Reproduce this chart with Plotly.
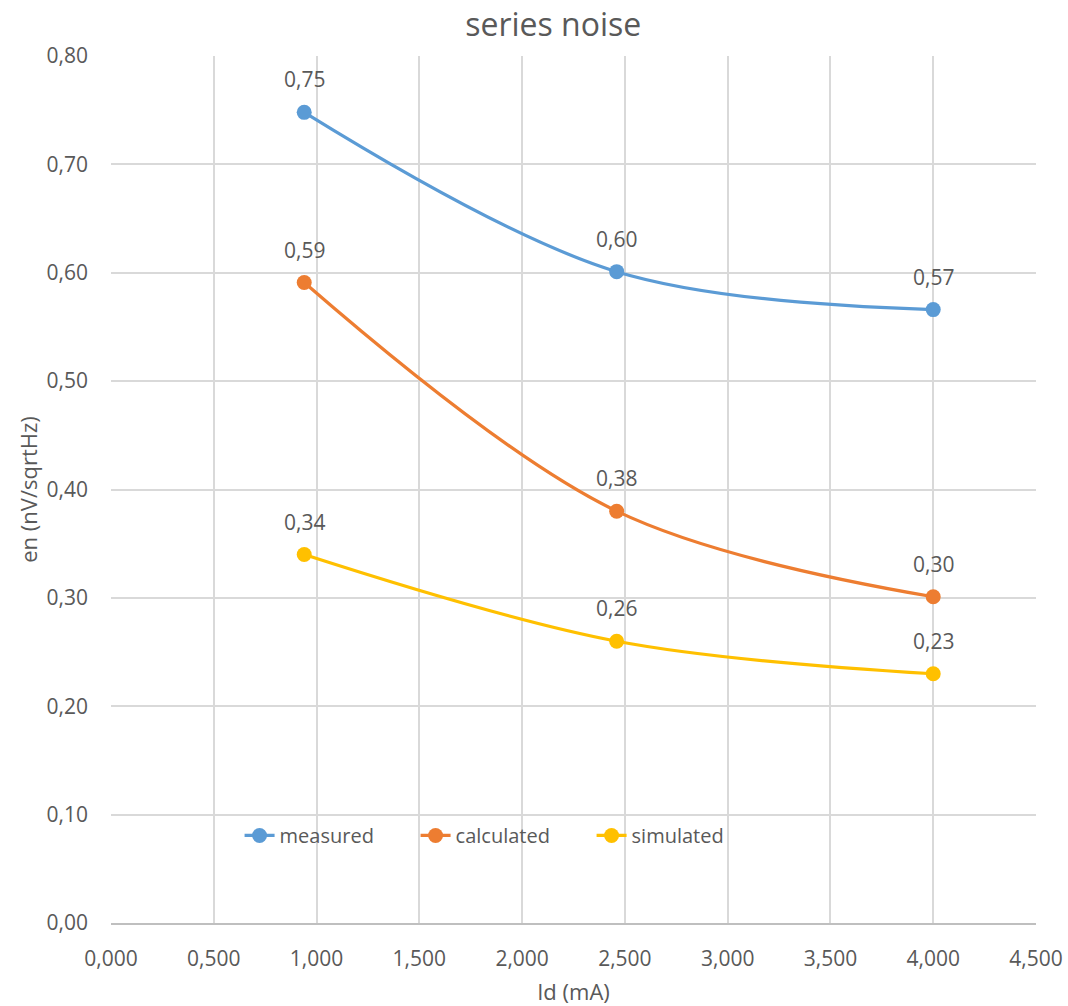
import plotly.graph_objects as go

# Drain current Id (mA) and series noise en (nV/sqrtHz)
id_ma = [0.94, 2.46, 4.0]
measured = [0.748, 0.601, 0.566]
calculated = [0.591, 0.380, 0.301]
simulated = [0.340, 0.260, 0.230]

series = [
    ("measured", measured, "#5B9BD5"),
    ("calculated", calculated, "#ED7D31"),
    ("simulated", simulated, "#FFC000"),
]

x_ticks = [0, 0.5, 1.0, 1.5, 2.0, 2.5, 3.0, 3.5, 4.0, 4.5]
y_ticks = [0, 0.1, 0.2, 0.3, 0.4, 0.5, 0.6, 0.7, 0.8]

FONT = "Open Sans"
TEXT = "#595959"
GRID = "#d9d9d9"

fig = go.Figure()
annotations = []
for name, vals, color in series:
    fig.add_trace(go.Scatter(
        x=id_ma, y=vals, name=name, mode="lines+markers",
        line=dict(color=color, width=3.2, shape="spline", smoothing=1.0),
        marker=dict(color=color, size=15),
    ))
    for xv, yv in zip(id_ma, vals):
        annotations.append(dict(
            x=xv, y=yv, xref="x", yref="y", showarrow=False,
            text=f"{yv:.2f}".replace(".", ","), yshift=33,
            font=dict(family=FONT, size=21, color=TEXT),
        ))

fig.update_layout(
    width=1068, height=1006,
    margin=dict(l=111, r=32, t=56, b=83, autoexpand=False),
    paper_bgcolor="white", plot_bgcolor="white",
    separators=", ",
    font=dict(family=FONT, size=21, color=TEXT),
    title=dict(text="series noise", x=0.518, xanchor="center",
               y=0.975, yanchor="middle", automargin=False,
               font=dict(family=FONT, size=32, color=TEXT)),
    showlegend=True,
    legend=dict(orientation="h", x=0.139, xanchor="left",
                y=0.101, yanchor="middle", bgcolor="rgba(0,0,0,0)",
                font=dict(family=FONT, size=20, color=TEXT),
                entrywidth=131, entrywidthmode="pixels",
                itemwidth=30),
    annotations=annotations,
)

fig.update_xaxes(
    range=[0, 4.5], tickvals=x_ticks, tickformat=".3f",
    showgrid=True, gridcolor=GRID, gridwidth=1.5,
    showline=True, linecolor="#bfbfbf", linewidth=1.5,
    zeroline=False, ticks="", ticklabelstandoff=16, automargin=False,
    tickfont=dict(family=FONT, size=21, color=TEXT),
    title=dict(text="Id (mA)", standoff=14,
               font=dict(family=FONT, size=22, color=TEXT)),
)
fig.update_yaxes(
    range=[0, 0.8], tickvals=y_ticks, tickformat=".2f",
    showgrid=True, gridcolor=GRID, gridwidth=1.5,
    showline=False, zeroline=False, ticks="", ticklabelstandoff=22,
    automargin=False,
    tickfont=dict(family=FONT, size=21, color=TEXT),
    title=dict(text="en (nV/sqrtHz)", standoff=2,
               font=dict(family=FONT, size=22, color=TEXT)),
)

fig.write_html("out.html")
